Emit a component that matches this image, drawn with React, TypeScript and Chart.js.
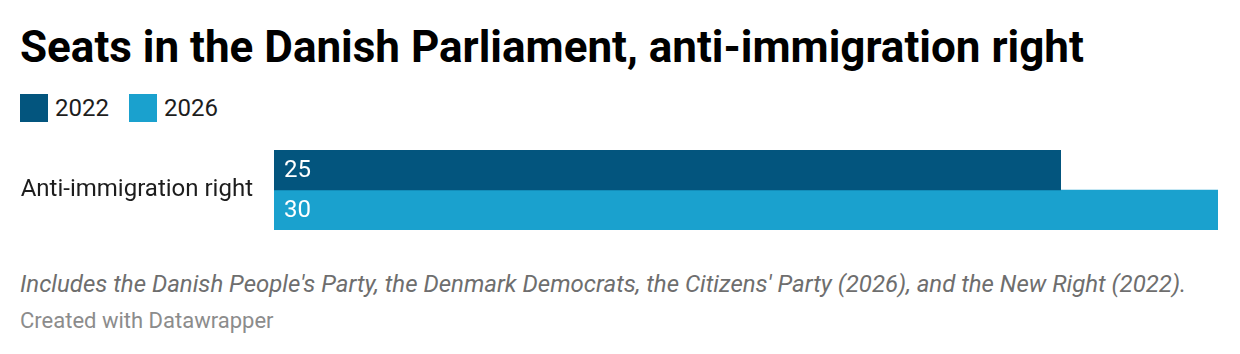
import React, { useEffect, useRef } from "react";
import { Chart, registerables } from "chart.js";

Chart.register(...registerables);

const categories = ["Anti-immigration right"];
const seriesNames = ["2022", "2026"];
const values2022 = [25];
const values2026 = [30];
const colors = ["#03557e", "#1aa1ce"];
const xMax = 30;

const FONT = "Roboto, 'Noto Sans', sans-serif";

const valueLabels = {
  id: "valueLabels",
  afterDatasetsDraw(chart: any) {
    const ctx = chart.ctx;
    ctx.save();
    ctx.font = `400 24px ${FONT}`;
    ctx.fillStyle = "#ffffff";
    ctx.textAlign = "left";
    ctx.textBaseline = "middle";
    chart.data.datasets.forEach((ds: any, i: number) => {
      const meta = chart.getDatasetMeta(i);
      meta.data.forEach((bar: any, j: number) => {
        const left = Math.min(bar.x, bar.base);
        ctx.fillText(String(ds.data[j]), left + 10, bar.y + 1);
      });
    });
    ctx.restore();
  },
};

export default function App() {
  const ref = useRef<HTMLCanvasElement | null>(null);
  useEffect(() => {
    if (!ref.current) return;
    const chart = new Chart(ref.current, {
      type: "bar",
      data: {
        labels: categories,
        datasets: [
          { label: seriesNames[0], data: values2022, backgroundColor: colors[0] },
          { label: seriesNames[1], data: values2026, backgroundColor: colors[1] },
        ],
      },
      options: {
        indexAxis: "y",
        animation: false,
        responsive: false,
        maintainAspectRatio: false,
        layout: { autoPadding: false, padding: { top: 10, bottom: 10, left: 0, right: 22 } },
        datasets: {
          bar: { categoryPercentage: 1, barPercentage: 1, borderWidth: 0 },
        } as any,
        plugins: { legend: { display: false }, tooltip: { enabled: false }, title: { display: false } },
        scales: {
          x: { display: false, min: 0, max: xMax },
          y: {
            grid: { display: false, drawTicks: false },
            border: { display: false },
            ticks: { color: "#1d1d1d", font: { family: FONT, size: 24 }, padding: 21 },
            afterFit(scale: any) {
              scale.width = 274;
              scale.paddingTop = 0;
              scale.paddingBottom = 0;
            },
          },
        },
      },
      plugins: [valueLabels],
    });
    return () => chart.destroy();
  }, []);

  return (
    <div
      style={{
        position: "fixed",
        left: 0,
        top: 0,
        width: 1240,
        height: 354,
        background: "#fff",
        fontFamily: FONT,
        overflow: "hidden",
      }}
    >
      <div
        style={{
          position: "absolute",
          left: 20,
          top: 21,
          fontSize: 44,
          fontWeight: 700,
          color: "#000",
          lineHeight: "52px",
          whiteSpace: "nowrap",
        }}
      >
        Seats in the Danish Parliament, anti-immigration right
      </div>
      <div style={{ position: "absolute", left: 20, top: 94, display: "flex", alignItems: "center", height: 28 }}>
        {seriesNames.map((n, i) => (
          <div key={n} style={{ display: "flex", alignItems: "center", marginRight: 20 }}>
            <span style={{ display: "inline-block", width: 28, height: 28, background: colors[i], marginRight: 7 }} />
            <span style={{ fontSize: 24, color: "#1d1d1d", lineHeight: "28px" }}>{n}</span>
          </div>
        ))}
      </div>
      <canvas
        ref={ref}
        width={1240}
        height={100}
        style={{ position: "absolute", left: 0, top: 140, width: 1240, height: 100 }}
      />
      <div
        style={{
          position: "absolute",
          left: 20,
          top: 270,
          fontSize: 24,
          fontStyle: "italic",
          color: "#6e6e6e",
          whiteSpace: "nowrap",
          lineHeight: "28px",
        }}
      >
        Includes the Danish People's Party, the Denmark Democrats, the Citizens' Party (2026), and the New Right (2022).
      </div>
      <div
        style={{
          position: "absolute",
          left: 20,
          top: 309,
          fontSize: 22,
          color: "#8c8c8c",
          whiteSpace: "nowrap",
          lineHeight: "24px",
        }}
      >
        Created with Datawrapper
      </div>
    </div>
  );
}
